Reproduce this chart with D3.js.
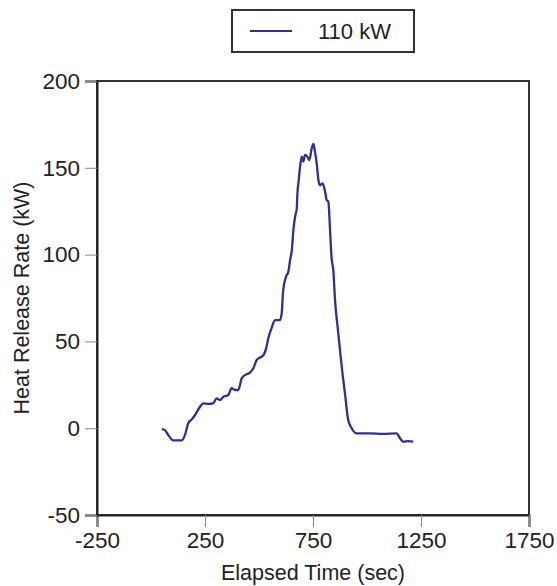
<!DOCTYPE html>
<html>
<head>
<meta charset="utf-8">
<script src="https://cdn.jsdelivr.net/npm/d3@7"></script>
<style>
  body { margin: 0; background: #fff; }
  text { font-family: "Liberation Sans", Arial, sans-serif; fill: #222; }
</style>
</head>
<body>
<svg width="557" height="586"></svg>
<script>
const svg = d3.select('svg');

// Elapsed time (sec) and heat release rate (kW)
const timeSec = [50, 64, 80, 103, 142, 157, 173, 188, 204, 227, 242, 265, 288, 304, 319, 335, 358, 373, 389, 404,
  420, 435, 458, 474, 489, 520, 535, 543, 558, 574, 597, 605, 612, 625, 636, 644, 652, 659, 667, 675,
  677, 684, 690, 698, 705, 713, 724, 733, 744, 752, 759, 767, 775, 782, 795, 806, 813, 821, 829, 836,
  844, 852, 867, 883, 898, 913, 929, 952, 1014, 1075, 1137, 1153, 1168, 1191, 1214];
const hrr = [-0.5, -1, -4, -7, -7, -4, 3, 5, 7.6, 12.4, 14.3, 14, 14.3, 17.2, 16.2, 18.1, 19.1, 23, 22, 22,
  28.7, 30.6, 32, 34.5, 39.3, 42, 47, 51.8, 57.5, 62.3, 62.3, 66.2, 79.6, 87.3, 90.2, 96.9, 102.6, 114, 121.8, 126.7,
  133.4, 143, 150.6, 156.4, 153.5, 157.4, 156.4, 154.5, 161.2, 163.7, 159.3, 152.6, 143, 140, 141, 136.2, 131.5, 130.5, 114, 98,
  91, 73.8, 54.7, 35.4, 20, 4.7, 0, -3, -3, -3.3, -3, -5.8, -7.8, -7.4, -7.8];

const xTicks = [-250, 250, 750, 1250, 1750];
const yTicks = [-50, 0, 50, 100, 150, 200];
const seriesName = '110 kW';

const margin = {left: 97, right: 28, top: 81, bottom: 71};
const width = 557, height = 586;

const x = d3.scaleLinear().domain([-250, 1750]).range([margin.left, width - margin.right]);
const y = d3.scaleLinear().domain([-50, 200]).range([height - margin.bottom, margin.top]);

// top and right frame
svg.append('rect')
  .attr('x', x(-250)).attr('y', y(200))
  .attr('width', x(1750) - x(-250)).attr('height', y(-50) - y(200))
  .attr('fill', 'none').attr('stroke', '#333').attr('stroke-width', 2);

const xAxis = svg.append('g')
  .attr('transform', `translate(0,${y(-50)})`)
  .call(d3.axisBottom(x).tickValues(xTicks).tickFormat(d => String(d)).tickSize(12).tickPadding(5));
const yAxis = svg.append('g')
  .attr('transform', `translate(${x(-250)},0)`)
  .call(d3.axisLeft(y).tickValues(yTicks).tickFormat(d => String(d)).tickSize(12).tickPadding(5));

[xAxis, yAxis].forEach(a => {
  a.select('.domain').attr('stroke', '#222').attr('stroke-width', 2);
  a.selectAll('.tick line').attr('stroke', '#888').attr('stroke-width', 1);
  a.selectAll('.tick text').style('font-size', '22.5px').attr('fill', '#222');
});

// line
const line = d3.line().x((d, i) => x(timeSec[i])).y(d => y(d)).curve(d3.curveMonotoneX);
svg.append('path')
  .datum(hrr)
  .attr('d', line)
  .attr('fill', 'none')
  .attr('stroke', '#2e3192')
  .attr('stroke-width', 2.3)
  .attr('stroke-linejoin', 'round');

// axis titles
svg.append('text')
  .attr('x', (x(-250) + x(1750)) / 2).attr('y', 580)
  .attr('text-anchor', 'middle').style('font-size', '21.5px')
  .text('Elapsed Time (sec)');
svg.append('text')
  .attr('transform', `translate(29,${(y(200) + y(-50)) / 2}) rotate(-90)`)
  .attr('text-anchor', 'middle').style('font-size', '21.5px')
  .text('Heat Release Rate (kW)');

// legend
const lg = svg.append('g');
lg.append('rect')
  .attr('x', 232).attr('y', 10).attr('width', 182).attr('height', 42)
  .attr('fill', '#fff').attr('stroke', '#333').attr('stroke-width', 2);
lg.append('line')
  .attr('x1', 250).attr('x2', 292).attr('y1', 31).attr('y2', 31)
  .attr('stroke', '#2e3192').attr('stroke-width', 2);
lg.append('text')
  .attr('x', 318).attr('y', 39).style('font-size', '22px')
  .text(seriesName);
</script>
</body>
</html>
